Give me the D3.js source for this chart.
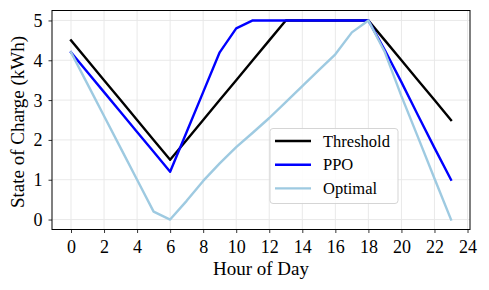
<!DOCTYPE html>
<html><head><meta charset="utf-8">
<script src="https://cdn.jsdelivr.net/npm/d3@7"></script>
<style>body{margin:0;background:#fff;} text{font-family:"Liberation Serif","Times New Roman",serif;}</style>
</head><body>
<svg id="c" width="489" height="290"></svg>
<script>
const hours = d3.range(0, 24);
const threshold = [4.5,4.0,3.5,3.0,2.5,2.0,1.5,2.0,2.5,3.0,3.5,4.0,4.5,5.0,5,5,5,5,5,4.5,4.0,3.5,3.0,2.5];
const ppo = [4.2,3.7,3.2,2.7,2.2,1.7,1.2,2.2,3.2,4.2,4.8,5,5,5,5,5,5,5,5,4.25,3.45,2.62,1.8,1.0];
const optimal = [4.2,3.4,2.6,1.8,1.0,0.2,0.0,0.47,0.97,1.41,1.82,2.18,2.55,2.95,3.35,3.75,4.15,4.7,5.0,4.2,3.1,2.07,1.03,0.0];
const xTicks = d3.range(0, 25, 2);
const yTicks = [0,1,2,3,4,5];
const seriesNames = ["Threshold","PPO","Optimal"];
const seriesColors = ["#000000","#0000ff","#9ecae1"];
const seriesData = [threshold, ppo, optimal];

const svg = d3.select("#c");
const L=52, R=470, T=10.5, B=229.5;
const x = d3.scaleLinear().domain([-1.15, 24.15]).range([L, R]);
const y = d3.scaleLinear().domain([-0.25, 5.25]).range([B, T]);

// grid
const g = svg.append("g");
g.selectAll(".gx").data(xTicks).join("line")
  .attr("x1", d=>x(d)).attr("x2", d=>x(d)).attr("y1", T).attr("y2", B)
  .attr("stroke", "#e6e6e6").attr("stroke-width", 0.9);
g.selectAll(".gy").data(yTicks).join("line")
  .attr("y1", d=>y(d)).attr("y2", d=>y(d)).attr("x1", L).attr("x2", R)
  .attr("stroke", "#e6e6e6").attr("stroke-width", 0.9);

// lines
const line = d3.line().x((d,i)=>x(hours[i])).y(d=>y(d));
seriesData.forEach((s,k)=>{
  svg.append("path").datum(s).attr("d", line).attr("fill","none")
    .attr("stroke", seriesColors[k]).attr("stroke-width", 2.4)
    .attr("stroke-linejoin","round").attr("stroke-linecap","square");
});

// axes
const xAxis = svg.append("g").attr("transform", `translate(0,${B})`)
  .call(d3.axisBottom(x).tickValues(xTicks).tickFormat(d3.format("d")).tickSize(3.5));
const yAxis = svg.append("g").attr("transform", `translate(${L},0)`)
  .call(d3.axisLeft(y).tickValues(yTicks).tickFormat(d3.format("d")).tickSize(3.5));
[xAxis,yAxis].forEach(a=>{
  a.select(".domain").remove();
  a.selectAll("line").attr("stroke","#000").attr("stroke-width",0.8);
  a.selectAll("text").attr("font-family","Liberation Serif").attr("font-size",18).attr("fill","#000");
});
xAxis.selectAll("text").attr("y", 23.5).attr("dy", null);
yAxis.selectAll("text").attr("x", -9.5).attr("dy", "0.33em");
svg.append("rect").attr("x",L).attr("y",T).attr("width",R-L).attr("height",B-T)
  .attr("fill","none").attr("stroke","#000").attr("stroke-width",1);

svg.append("text").attr("x",(L+R)/2).attr("y",275).attr("text-anchor","middle")
  .attr("font-size",19).text("Hour of Day");
svg.append("text").attr("transform",`translate(24,${(T+B)/2+2}) rotate(-90)`).attr("text-anchor","middle")
  .attr("font-size",19).text("State of Charge (kWh)");

// legend
const lg = svg.append("g");
lg.append("rect").attr("x",270).attr("y",128.5).attr("width",128).attr("height",75).attr("rx",3)
  .attr("fill","#fff").attr("fill-opacity",0.85).attr("stroke","#d0d0d0").attr("stroke-width",0.9);
seriesNames.forEach((n,k)=>{
  const yy = 141 + k*23.7;
  lg.append("line").attr("x1",275).attr("x2",311).attr("y1",yy).attr("y2",yy)
    .attr("stroke",seriesColors[k]).attr("stroke-width",2.4);
  lg.append("text").attr("x",323).attr("y",yy+5.5).attr("font-size",16.5).text(n);
});
</script>
</body></html>
